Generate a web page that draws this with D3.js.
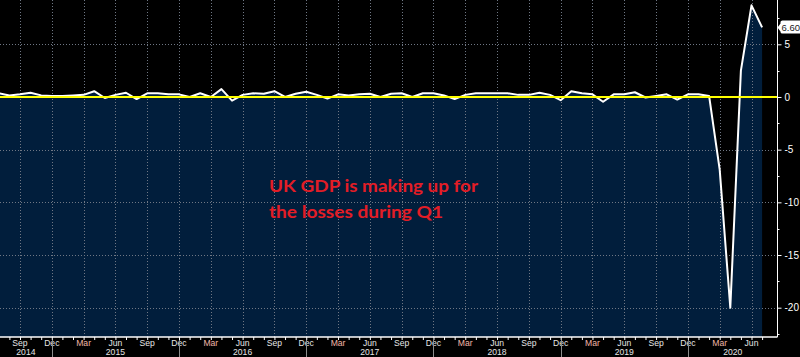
<!DOCTYPE html>
<html><head><meta charset="utf-8">
<script src="https://cdn.jsdelivr.net/npm/d3@7"></script>
<style>body{margin:0;background:#000;overflow:hidden} svg{display:block}</style>
</head><body>
<svg id="c" width="800" height="357"></svg>
<script>
// ---- data ----
const startYear = 2014, startMonth = 6; // series begins July 2014 (0-based month)
const gdpMoM = [
  0.35, 0.15, 0.25, 0.4, 0.15, 0.1,                                   // 2014 Jul-Dec
  0.1, 0.15, 0.2, 0.55, -0.1, 0.2, 0.4, -0.2, 0.35, 0.35, 0.25, 0.25,  // 2015
  0.0, 0.35, 0.0, 0.75, -0.35, 0.2, 0.35, 0.3, 0.55, 0.0, 0.3, 0.5,    // 2016
  0.2, -0.15, 0.25, 0.15, 0.25, 0.3, 0.0, 0.3, 0.35, 0.0, 0.35, 0.35,  // 2017
  0.15, -0.2, 0.2, 0.35, 0.35, 0.35, 0.35, 0.2, 0.2, 0.4, 0.2, -0.3,   // 2018
  0.55, 0.35, 0.25, -0.45, 0.25, 0.25, 0.45, -0.05, 0.1, 0.25, -0.25, 0.25, // 2019
  0.25, 0.1, -6.9, -20.0, 2.5, 8.7, 6.6                               // 2020 Jan-Jul
];
const monthNames = ["Jan","Feb","Mar","Apr","May","Jun","Jul","Aug","Sep","Oct","Nov","Dec"];
const quarterLabels = ["Mar","Jun","Sep","Dec"];
const yearLabels = [2014, 2015, 2016, 2017, 2018, 2019, 2020];
const yTickValues = [5, 0, -5, -10, -15, -20];
const yMinorValues = [7.5, 2.5, -2.5, -7.5, -12.5, -17.5, -22.5];
const lastValueLabel = "6.60";
const noteLines = ["UK GDP is making up for", "the losses during Q1"];

// ---- layout ----
const W = 800, H = 357;
const plotRight = 777.5, axisY = 337;
const svg = d3.select("#c");
svg.append("rect").attr("width", W).attr("height", H).attr("fill", "#000");

const months = gdpMoM.map((v, i) => {
  const m = (startMonth + i) % 12, yr = startYear + Math.floor((startMonth + i) / 12);
  return {i, m, yr, name: monthNames[m], v};
});

const x = d3.scaleLinear().domain([2, 71]).range([20, 751.5]);
const y = d3.scaleLinear().domain([-20, 5]).range([307.7, 44.3]);

const defs = svg.append("defs");
defs.append("clipPath").attr("id", "plot").append("rect")
  .attr("x", 0).attr("y", 0).attr("width", plotRight).attr("height", axisY);

const plot = svg.append("g").attr("clip-path", "url(#plot)");

// area fill under line
const area = d3.area().x(d => x(d.i)).y0(axisY).y1(d => y(d.v));
plot.append("path").datum(months).attr("d", area).attr("fill", "#011e3c");

// gridlines
const gridColor = "#6f7784";
const quarterMonths = months.filter(d => quarterLabels.includes(d.name));
plot.selectAll(".vg").data(quarterMonths).join("line")
  .attr("x1", d => Math.round(x(d.i)) + 0.5).attr("x2", d => Math.round(x(d.i)) + 0.5)
  .attr("y1", 0).attr("y2", axisY)
  .attr("stroke", gridColor).attr("stroke-width", 1).attr("stroke-dasharray", "1,2");
plot.selectAll(".hg").data(yTickValues.filter(v => v !== 0)).join("line")
  .attr("x1", 0).attr("x2", plotRight)
  .attr("y1", d => Math.round(y(d)) + 0.5).attr("y2", d => Math.round(y(d)) + 0.5)
  .attr("stroke", gridColor).attr("stroke-width", 1).attr("stroke-dasharray", "1,2");

// series line
const line = d3.line().x(d => x(d.i)).y(d => y(d.v));
plot.append("path").datum(months).attr("d", line)
  .attr("fill", "none").attr("stroke", "#ffffff").attr("stroke-width", 2)
  .attr("stroke-linejoin", "round");

// zero line
plot.append("line").attr("x1", 0).attr("x2", plotRight)
  .attr("y1", y(0)).attr("y2", y(0))
  .attr("stroke", "#ffff00").attr("stroke-width", 2.2);

// ---- right axis ----
const yAxis = d3.axisRight(y).tickValues(yTickValues).tickSize(4).tickPadding(3)
  .tickFormat(d => d);
const gy = svg.append("g").attr("transform", `translate(${plotRight},0)`).call(yAxis);
gy.select(".domain").remove();
gy.selectAll("line").attr("stroke", "#fff");
gy.selectAll("text").attr("fill", "#fff").attr("font-family", "Liberation Sans, Arial, sans-serif")
  .attr("font-size", "10px");
svg.append("g").selectAll("line").data(yMinorValues).join("line")
  .attr("x1", plotRight).attr("x2", plotRight + 2)
  .attr("y1", d => Math.round(y(d)) + 0.5).attr("y2", d => Math.round(y(d)) + 0.5)
  .attr("stroke", "#fff");
svg.append("line").attr("x1", plotRight).attr("x2", plotRight).attr("y1", 0).attr("y2", axisY)
  .attr("stroke", "#fff").attr("stroke-width", 1);

// ---- bottom axis ----
svg.append("line").attr("x1", 0).attr("x2", plotRight).attr("y1", axisY).attr("y2", axisY)
  .attr("stroke", "#fff").attr("stroke-width", 1.5);
const xAxis = d3.axisBottom(x).tickValues(months.map(d => d.i).filter(i => x(i) > 1 && x(i) < plotRight))
  .tickSize(3).tickFormat("");
const gx = svg.append("g").attr("transform", `translate(0,${axisY})`).call(xAxis);
gx.select(".domain").remove();
gx.selectAll("line").attr("stroke", "#fff");

svg.append("g").selectAll("text").data(quarterMonths.filter(d => x(d.i) > 5)).join("text")
  .attr("x", d => x(d.i)).attr("y", 345.6).attr("text-anchor", "middle")
  .attr("font-family", "Liberation Sans, Arial, sans-serif").attr("font-size", "8.6px")
  .attr("fill", d => d.name === "Mar" ? "#f2b7a8" : "#e6e6e6")
  .text(d => d.name);

// year separators and labels
const decs = months.filter(d => d.name === "Dec");
svg.append("g").selectAll("line").data(decs).join("line")
  .attr("x1", d => Math.round(x(d.i)) + 0.5).attr("x2", d => Math.round(x(d.i)) + 0.5)
  .attr("y1", 340).attr("y2", H)
  .attr("stroke", "#8c8c8c");
const yearBounds = yearLabels.map(yr => {
  const prev = months.find(d => d.yr === yr - 1 && d.name === "Dec");
  const cur = months.find(d => d.yr === yr && d.name === "Dec");
  const a = prev ? x(prev.i) : 0;
  const b = cur ? Math.min(x(cur.i), plotRight) : plotRight;
  return {yr, cx: (a + b) / 2};
});
svg.append("g").selectAll("text").data(yearBounds).join("text")
  .attr("x", d => d.cx).attr("y", 355.3).attr("text-anchor", "middle")
  .attr("font-family", "Liberation Sans, Arial, sans-serif").attr("font-size", "8.6px")
  .attr("fill", "#e6e6e6").text(d => d.yr);

// last value tag
const last = months[months.length - 1];
const ty = y(last.v);
svg.append("path")
  .attr("d", `M${plotRight},${ty} L${plotRight + 3},${ty - 4} L${plotRight + 3},${ty - 5.5} Q${plotRight + 3},${ty - 7} ${plotRight + 5},${ty - 7} L${W},${ty - 7} L${W},${ty + 6} L${plotRight + 5},${ty + 6} Q${plotRight + 3},${ty + 6} ${plotRight + 3},${ty + 4.5} L${plotRight + 3},${ty + 4} Z`)
  .attr("fill", "#fff");
svg.append("text").attr("x", 781.5).attr("y", ty + 3.3)
  .attr("font-family", "Liberation Sans, Arial, sans-serif").attr("font-size", "9.5px")
  .attr("fill", "#222").text(lastValueLabel);

// annotation
const note = svg.append("g");
const noteWidths = [209, 174];
noteLines.forEach((t, k) => {
  note.append("text").attr("x", 269).attr("y", 191.5 + k * 26.5)
    .attr("font-family", "Lato, 'Open Sans', sans-serif").attr("font-size", "17px")
    .attr("font-weight", "bold")
    .attr("fill", "#e31d26").attr("textLength", noteWidths[k]).attr("lengthAdjust", "spacingAndGlyphs")
    .text(t);
});
</script>
</body></html>
